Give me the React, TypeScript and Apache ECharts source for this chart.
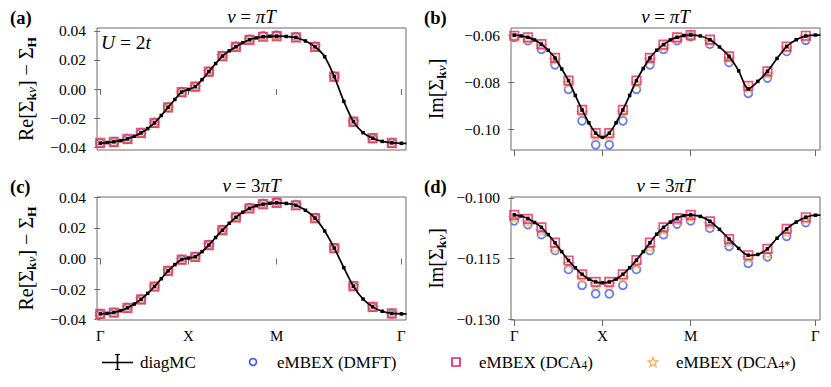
import React, { useEffect, useRef } from 'react';
import * as echarts from 'echarts';

// k-path coordinate: Γ = 0, X = 1, M = 2, Γ = 2 + √2
const kTicks = [0, 1, 2, 3.414];
const kTickLabels = ['Γ', 'X', 'M', 'Γ'];

// eMBEX k-points
const kPoints = [0, 0.154, 0.308, 0.462, 0.615, 0.769, 0.923, 1.077, 1.231, 1.385, 1.538, 1.692, 1.846, 2.0, 2.218, 2.435, 2.653, 2.87, 3.088, 3.305];
// diagMC k-points
const kDiag = [0, 0.077, 0.154, 0.231, 0.308, 0.385, 0.462, 0.538, 0.615, 0.692, 0.769, 0.846, 0.923, 1.0, 1.077, 1.154, 1.231, 1.308, 1.385, 1.462, 1.538, 1.615, 1.692, 1.769, 1.846, 1.923, 2.0, 2.109, 2.218, 2.326, 2.435, 2.544, 2.653, 2.761, 2.87, 2.979, 3.088, 3.196, 3.305, 3.414, 3.47];

// (a) Re, nu = pi T
const aDiagMC = [-0.0372, -0.0368, -0.0363, -0.0355, -0.0343, -0.0325, -0.0302, -0.0272, -0.0233, -0.0182, -0.0126, -0.0072, -0.0021, -0.0003, 0.0016, 0.0064, 0.0119, 0.0175, 0.0226, 0.0262, 0.029, 0.0318, 0.0338, 0.0351, 0.0359, 0.0362, 0.0363, 0.0361, 0.0354, 0.033, 0.029, 0.0222, 0.0085, -0.0085, -0.0224, -0.03, -0.0338, -0.036, -0.037, -0.0373, -0.0373];
const aDMFT = [-0.0373, -0.0366, -0.0345, -0.0303, -0.0234, -0.0127, -0.0022, 0.0016, 0.0119, 0.0227, 0.0292, 0.0341, 0.0364, 0.037, 0.0358, 0.0292, 0.0086, -0.0225, -0.034, -0.0373];
const aDCA4 = [-0.037, -0.0363, -0.0343, -0.0302, -0.0233, -0.0126, -0.0021, 0.0016, 0.0119, 0.0226, 0.029, 0.0338, 0.0359, 0.0363, 0.0354, 0.029, 0.0085, -0.0224, -0.0338, -0.037];
const aDCA4s = [-0.0371, -0.0364, -0.0344, -0.0303, -0.0233, -0.0126, -0.0021, 0.0016, 0.012, 0.0227, 0.0291, 0.0339, 0.036, 0.0364, 0.0355, 0.0291, 0.0086, -0.0224, -0.0339, -0.0371];

// (b) Im, nu = pi T
const bDiagMC = [-0.0598, -0.0601, -0.0607, -0.0618, -0.0636, -0.0662, -0.0695, -0.0742, -0.0792, -0.0855, -0.0917, -0.0972, -0.1016, -0.1034, -0.1016, -0.0972, -0.0917, -0.0855, -0.0792, -0.074, -0.0695, -0.0662, -0.0638, -0.0618, -0.0607, -0.0599, -0.0597, -0.0601, -0.0617, -0.0648, -0.0688, -0.075, -0.0827, -0.0795, -0.0752, -0.0697, -0.0646, -0.0617, -0.0601, -0.0597, -0.0597];
const bDMFT = [-0.0607, -0.0621, -0.0658, -0.0724, -0.0829, -0.0963, -0.1066, -0.1066, -0.0963, -0.0829, -0.0724, -0.0658, -0.0621, -0.0604, -0.0636, -0.0714, -0.0846, -0.0781, -0.0667, -0.0619];
const bDCA4 = [-0.06, -0.0607, -0.0636, -0.0695, -0.0792, -0.0917, -0.1016, -0.1016, -0.0917, -0.0792, -0.0695, -0.0638, -0.0607, -0.0597, -0.0617, -0.0688, -0.0814, -0.0752, -0.0646, -0.06];
const bDCA4s = [-0.0603, -0.0612, -0.0643, -0.0703, -0.0802, -0.0928, -0.1025, -0.1025, -0.0928, -0.0802, -0.0703, -0.0645, -0.0612, -0.0599, -0.0624, -0.0697, -0.0822, -0.0762, -0.0653, -0.0604];

// (c) Re, nu = 3 pi T
const cDiagMC = [-0.0362, -0.0359, -0.0353, -0.0341, -0.0323, -0.0298, -0.0267, -0.0228, -0.0183, -0.0132, -0.0081, -0.004, -0.0007, 0.0003, 0.0011, 0.0045, 0.0088, 0.0137, 0.0185, 0.023, 0.0269, 0.0302, 0.0328, 0.0345, 0.0355, 0.0361, 0.0364, 0.036, 0.0348, 0.0315, 0.0264, 0.018, 0.0068, -0.006, -0.0181, -0.0265, -0.0316, -0.0345, -0.0359, -0.0362, -0.0362];
const cDMFT = [-0.0364, -0.0355, -0.0324, -0.0268, -0.0184, -0.0082, -0.0008, 0.0011, 0.0089, 0.0186, 0.0271, 0.0331, 0.0359, 0.0368, 0.0351, 0.0266, 0.0069, -0.0182, -0.0318, -0.0362];
const cDCA4 = [-0.0362, -0.0353, -0.0323, -0.0267, -0.0183, -0.0081, -0.0007, 0.0011, 0.0088, 0.0185, 0.0269, 0.0328, 0.0355, 0.0364, 0.0348, 0.0264, 0.0068, -0.0181, -0.0316, -0.0359];
const cDCA4s = [-0.0363, -0.0354, -0.0323, -0.0267, -0.0183, -0.0081, -0.0007, 0.0011, 0.0089, 0.0186, 0.027, 0.0329, 0.0357, 0.0366, 0.035, 0.0265, 0.0068, -0.0181, -0.0317, -0.036];

// (d) Im, nu = 3 pi T
const dDiagMC = [-0.1042, -0.1045, -0.1051, -0.1061, -0.1073, -0.1091, -0.1111, -0.1133, -0.1155, -0.1173, -0.1189, -0.1201, -0.1208, -0.121, -0.1208, -0.1201, -0.1189, -0.1173, -0.1154, -0.1133, -0.1111, -0.109, -0.1073, -0.106, -0.105, -0.1044, -0.1042, -0.1046, -0.1058, -0.1078, -0.1102, -0.1125, -0.1142, -0.114, -0.1126, -0.11, -0.1077, -0.106, -0.1048, -0.1043, -0.1043];
const dDMFT = [-0.1057, -0.1066, -0.1091, -0.113, -0.1177, -0.1216, -0.1237, -0.1237, -0.1216, -0.1177, -0.113, -0.1091, -0.1065, -0.1057, -0.1075, -0.112, -0.1162, -0.1146, -0.1095, -0.1061];
const dDCA4 = [-0.1042, -0.1052, -0.1073, -0.1111, -0.1155, -0.1189, -0.1208, -0.1208, -0.1189, -0.1154, -0.1111, -0.1073, -0.105, -0.1042, -0.1058, -0.1102, -0.1142, -0.1126, -0.1077, -0.1048];
const dDCA4s = [-0.105, -0.106, -0.1082, -0.1124, -0.1163, -0.1197, -0.1213, -0.1213, -0.1197, -0.1163, -0.1122, -0.108, -0.1057, -0.1048, -0.1065, -0.111, -0.1148, -0.1138, -0.1085, -0.1053];

const reYTicks = [-0.04, -0.02, 0, 0.02, 0.04];
const imYTicksB = [-0.1, -0.08, -0.06];
const imYTicksD = [-0.13, -0.115, -0.1];

const seriesNames = ['diagMC', 'eMBEX (DMFT)', 'eMBEX (DCA4)', 'eMBEX (DCA4*)'];

const FONT = '"Liberation Serif", "DejaVu Serif", serif';
const FRAME = '#6a6a6a';
const BLUE = '#3d55f0';
const PINK = '#e2286a';
const ORANGE = '#f6b55a';
const STAR = 'path://M0,-10 L2.35,-3.24 L9.51,-3.09 L3.8,1.24 L5.88,8.09 L0,4 L-5.88,8.09 L-3.8,1.24 L-9.51,-3.09 L-2.35,-3.24 Z';

const subRich = {
  kb: { fontFamily: FONT, fontSize: 13.5, fontWeight: 'bold', verticalAlign: 'bottom', color: '#000' },
  ni: { fontFamily: FONT, fontSize: 13.5, fontStyle: 'italic', verticalAlign: 'bottom', color: '#000' },
  hb: { fontFamily: FONT, fontSize: 13.5, fontWeight: 'bold', verticalAlign: 'bottom', color: '#000' },
};

const grids = [
  { left: 97, top: 28, width: 309, height: 122 },
  { left: 511, top: 28, width: 309, height: 122 },
  { left: 97, top: 197, width: 309, height: 123 },
  { left: 511, top: 197, width: 309, height: 123 },
];

const panels = [
  { diag: aDiagMC, dmft: aDMFT, dca: aDCA4, dcas: aDCA4s, min: -0.0419, max: 0.0419, ticks: reYTicks, dec: 2, name: 'Re[Σ{kb|k}{ni|ν}] − Σ{hb|H}', gap: 59, xl: false },
  { diag: bDiagMC, dmft: bDMFT, dca: bDCA4, dcas: bDCA4s, min: -0.1088, max: -0.0567, ticks: imYTicksB, dec: 2, name: 'Im[Σ{kb|k}{ni|ν}]', gap: 63, xl: false },
  { diag: cDiagMC, dmft: cDMFT, dca: cDCA4, dcas: cDCA4s, min: -0.0402, max: 0.0402, ticks: reYTicks, dec: 2, name: 'Re[Σ{kb|k}{ni|ν}] − Σ{hb|H}', gap: 59, xl: true },
  { diag: dDiagMC, dmft: dDMFT, dca: dDCA4, dcas: dDCA4s, min: -0.1302, max: -0.0998, ticks: imYTicksD, dec: 3, name: 'Im[Σ{kb|k}{ni|ν}]', gap: 63, xl: true },
];

const titleTexts = ['{i|ν} = {i|πT}', '{i|ν} = {i|πT}', '{i|ν} = 3{i|πT}', '{i|ν} = 3{i|πT}'];
const panelLabels = ['(a)', '(b)', '(c)', '(d)'];

function fmtY(v: number, dec: number) {
  const s = Math.abs(v).toFixed(dec);
  return (v < -1e-9 ? '\u2212' : '') + s;
}

function fmtK(v: number) {
  const i = kTicks.findIndex((t) => Math.abs(t - v) < 1e-6);
  return i >= 0 ? kTickLabels[i] : '';
}

function buildOption() {
  const xAxis: any[] = [];
  const yAxis: any[] = [];
  const series: any[] = [];
  panels.forEach((p, i) => {
    xAxis.push({
      type: 'value', gridIndex: i, min: -0.037, max: 3.466,
      axisLine: { show: false }, splitLine: { show: false },
      axisTick: { show: true, customValues: kTicks, length: 6, lineStyle: { color: FRAME, width: 1 } },
      axisLabel: { show: p.xl, customValues: kTicks, formatter: fmtK, margin: 8, fontFamily: FONT, fontSize: 15, color: '#000' },
    });
    yAxis.push({
      type: 'value', gridIndex: i, min: p.min, max: p.max,
      axisLine: { show: false }, splitLine: { show: false },
      axisTick: { show: true, customValues: p.ticks, length: 6, lineStyle: { color: FRAME, width: 1 } },
      axisLabel: { customValues: p.ticks, formatter: (v: number) => fmtY(v, p.dec), margin: 11, fontFamily: FONT, fontSize: 15.5, color: '#000' },
      name: p.name, nameLocation: 'middle', nameRotate: 90, nameGap: p.gap,
      nameTextStyle: { fontFamily: FONT, fontSize: 20, color: '#000', lineHeight: 24, rich: subRich },
    });
    series.push({
      name: seriesNames[1], type: 'scatter', xAxisIndex: i, yAxisIndex: i, z: 2, silent: true,
      data: kPoints.map((x, j) => [x, p.dmft[j]]),
      symbol: 'circle', symbolSize: 8,
      itemStyle: { color: 'rgba(0,0,0,0)', borderColor: BLUE, borderWidth: 1.7 },
    });
    series.push({
      name: seriesNames[3], type: 'scatter', xAxisIndex: i, yAxisIndex: i, z: 3, silent: true,
      data: kPoints.map((x, j) => [x, p.dcas[j]]),
      symbol: STAR, symbolSize: 10, symbolKeepAspect: true,
      itemStyle: { color: 'rgba(0,0,0,0)', borderColor: ORANGE, borderWidth: 1.4 },
    });
    series.push({
      name: seriesNames[2], type: 'scatter', xAxisIndex: i, yAxisIndex: i, z: 4, silent: true,
      data: kPoints.map((x, j) => [x, p.dca[j]]),
      symbol: 'rect', symbolSize: 8.5,
      itemStyle: { color: 'rgba(0,0,0,0)', borderColor: PINK, borderWidth: 1.7 },
    });
    series.push({
      name: seriesNames[0], type: 'line', xAxisIndex: i, yAxisIndex: i, z: 5, silent: true,
      data: kDiag.map((x, j) => [x, p.diag[j]]),
      smooth: 0.3, clip: true,
      symbol: 'rect', symbolSize: 3.5, showSymbol: true,
      itemStyle: { color: '#000' },
      lineStyle: { color: '#000', width: 1.7 },
    });
  });

  const graphic: any[] = [];
  grids.forEach((g, i) => {
    const top = i < 2;
    graphic.push({
      type: 'text', x: g.left + g.width / 2, y: top ? 16.5 : 185.5, silent: true,
      style: {
        text: titleTexts[i], align: 'center', verticalAlign: 'middle',
        fontFamily: FONT, fontSize: 19, fill: '#000',
        rich: { i: { fontFamily: FONT, fontSize: 19, fontStyle: 'italic', fill: '#000' } },
      },
    });
    graphic.push({
      type: 'text', x: i % 2 === 0 ? 10 : 424, y: top ? 18 : 186.5, silent: true,
      style: { text: panelLabels[i], align: 'left', verticalAlign: 'middle', fontFamily: FONT, fontSize: 18.5, fontWeight: 'bold', fill: '#000' },
    });
  });
  graphic.push({
    type: 'text', x: 101, y: 42.5, silent: true,
    style: {
      text: '{i|U} = 2{i|t}', align: 'left', verticalAlign: 'middle', fontFamily: FONT, fontSize: 19.5, fill: '#000',
      rich: { i: { fontFamily: FONT, fontSize: 19.5, fontStyle: 'italic', fill: '#000' } },
    },
  });

  // legend
  const ly = 362;
  const lstyle = { fontFamily: FONT, fontSize: 17, fill: '#000', align: 'left', verticalAlign: 'middle' };
  const lrich = { s: { fontFamily: FONT, fontSize: 11.5, verticalAlign: 'bottom', fill: '#000' } };
  graphic.push({ type: 'line', silent: true, shape: { x1: 102, y1: ly + 0.5, x2: 133, y2: ly + 0.5 }, style: { stroke: '#000', lineWidth: 1.6 } });
  graphic.push({ type: 'line', silent: true, shape: { x1: 117.5, y1: ly - 7.5, x2: 117.5, y2: ly + 7.5 }, style: { stroke: '#000', lineWidth: 1.6 } });
  graphic.push({ type: 'line', silent: true, shape: { x1: 115, y1: ly - 7.5, x2: 120, y2: ly - 7.5 }, style: { stroke: '#000', lineWidth: 1.2 } });
  graphic.push({ type: 'line', silent: true, shape: { x1: 115, y1: ly + 7.5, x2: 120, y2: ly + 7.5 }, style: { stroke: '#000', lineWidth: 1.2 } });
  graphic.push({ type: 'text', x: 140, y: ly, silent: true, style: { ...lstyle, text: seriesNames[0] } });
  graphic.push({ type: 'circle', silent: true, shape: { cx: 253, cy: ly, r: 3.5 }, style: { fill: 'none', stroke: BLUE, lineWidth: 1.6 } });
  graphic.push({ type: 'text', x: 277, y: ly, silent: true, style: { ...lstyle, text: 'eMBEX (DMFT)' } });
  graphic.push({ type: 'rect', silent: true, shape: { x: 452, y: ly - 4, width: 8, height: 8 }, style: { fill: 'none', stroke: PINK, lineWidth: 1.7 } });
  graphic.push({ type: 'text', x: 479, y: ly, silent: true, style: { ...lstyle, text: 'eMBEX (DCA{s|4})', rich: lrich } });
  const starPts: number[][] = [];
  for (let k = 0; k < 10; k++) {
    const r = k % 2 === 0 ? 5 : 2.2;
    const a = -Math.PI / 2 + (k * Math.PI) / 5;
    starPts.push([653 + r * Math.cos(a), ly + 0.5 + r * Math.sin(a)]);
  }
  graphic.push({ type: 'polygon', silent: true, shape: { points: starPts }, style: { fill: 'none', stroke: ORANGE, lineWidth: 1.4 } });
  graphic.push({ type: 'text', x: 676, y: ly, silent: true, style: { ...lstyle, text: 'eMBEX (DCA{s|4*})', rich: lrich } });

  return {
    animation: false,
    backgroundColor: '#fff',
    textStyle: { fontFamily: FONT },
    grid: grids.map((g) => ({ ...g, show: true, borderColor: FRAME, borderWidth: 1, backgroundColor: 'transparent' })),
    xAxis, yAxis, series, graphic,
  };
}

export default function App() {
  const ref = useRef<HTMLDivElement>(null);
  useEffect(() => {
    if (!ref.current) return;
    const chart = echarts.init(ref.current, undefined, { renderer: 'svg' });
    chart.setOption(buildOption() as any);
    return () => chart.dispose();
  }, []);
  return <div ref={ref} style={{ position: 'fixed', left: 0, top: 0, width: 831, height: 387, background: '#fff' }} />;
}
